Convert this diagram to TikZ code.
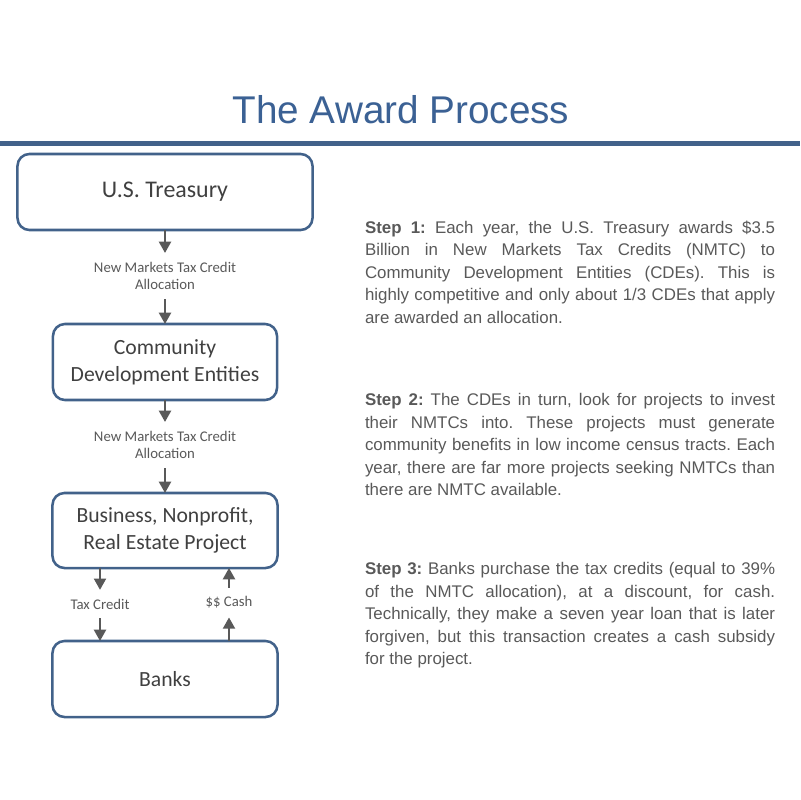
\documentclass[tikz,border=0pt]{standalone}
\usepackage{fontspec}
\setmainfont{Liberation Sans}
\newfontfamily\boxfont{Carlito}
\usepackage{xcolor}
\usepackage{tikz}
\usetikzlibrary{arrows.meta,calc}

\definecolor{titleblue}{RGB}{59,97,148}
\definecolor{boxblue}{RGB}{66,98,138}
\definecolor{boxtext}{RGB}{64,64,64}
\definecolor{flowgray}{RGB}{89,89,89}
\frenchspacing

\begin{document}
\begin{tikzpicture}[x=0.025cm,y=-0.025cm,inner sep=0,outer sep=0,
   stepbox/.style={draw=boxblue,line width=1.8pt,rounded corners=3mm,fill=white,minimum height=1.9cm,align=center,text=boxtext,font=\boxfont\fontsize{15.4}{19.2}\selectfont},
   flowlabel/.style={align=center,text=flowgray,inner ysep=6.4pt,font=\boxfont\fontsize{10.5}{12.6}\selectfont},
   flow/.style={draw=flowgray,line width=1.6pt,-{Triangle[width=8.5pt,length=8pt]}},
   steptext/.style={anchor=north west,text width=10.25cm,align=justify,text=flowgray,font=\fontsize{12}{16}\selectfont}]

   \useasboundingbox (0,0) rectangle (800,800);

   % Title and rule
   \node[text=titleblue,font=\fontsize{27.5}{33}\selectfont] (title) at (401,110) {The Award Process};
   \draw[boxblue,line width=2.85pt] (0,143.5) -- (800,143.5);

   % The boxes
   \node[stepbox,minimum width=7.375cm,font=\boxfont\fontsize{17}{20}\selectfont] (treasury) at (165,192) {U.S. Treasury};
   \node[stepbox,minimum width=5.6cm] (cde) at (165,362) {Community\\Development Entities};
   \node[stepbox,minimum width=5.625cm,minimum height=1.875cm] (project) at (165,530.5) {Business, Nonprofit,\\Real Estate Project};
   \node[stepbox,minimum width=5.625cm] (banks) at (165,679) {Banks};

   % Labels between the boxes
   \node[flowlabel] (alloc1) at (165,276) {New Markets Tax Credit\\Allocation};
   \node[flowlabel] (alloc2) at (165,445) {New Markets Tax Credit\\Allocation};
   \node[flowlabel] (credit) at (100,604) {Tax Credit};
   \node[flowlabel] (cash) at (229,602.5) {\$\$ Cash};

   % Arrows
   \draw[flow] (treasury) -- (alloc1);
   \draw[flow] (alloc1) -- (cde);
   \draw[flow] (cde) -- (alloc2);
   \draw[flow] (alloc2) -- (project);
   \draw[flow] (credit |- project.south) -- (credit);
   \draw[flow] (credit) -- (credit |- banks.north);
   \draw[flow] (cash |- banks.north) -- (cash);
   \draw[flow] (cash) -- (cash |- project.south);

   % Steps
   \node[steptext] (step1) at (365,221) {\textbf{Step 1:} Each year, the U.S. Treasury awards \$3.5\linebreak
      Billion in New Markets Tax Credits (NMTC) to\linebreak
      Community Development Entities (CDEs). This is\linebreak
      highly competitive and only about 1/3 CDEs that apply\linebreak
      are awarded an allocation.};
   \node[steptext] (step2) at (365,393.5) {\textbf{Step 2:} The CDEs in turn, look for projects to invest\linebreak
      their NMTCs into. These projects must generate\linebreak
      community benefits in low income census tracts. Each\linebreak
      year, there are far more projects seeking NMTCs than\linebreak
      there are NMTC available.};
   \node[steptext] (step3) at (365,562.5) {\textbf{Step 3:} Banks purchase the tax credits (equal to 39\%\linebreak
      of the NMTC allocation), at a discount, for cash.\linebreak
      Technically, they make a seven year loan that is later\linebreak
      forgiven, but this transaction creates a cash subsidy\linebreak
      for the project.};

\end{tikzpicture}
\end{document}
